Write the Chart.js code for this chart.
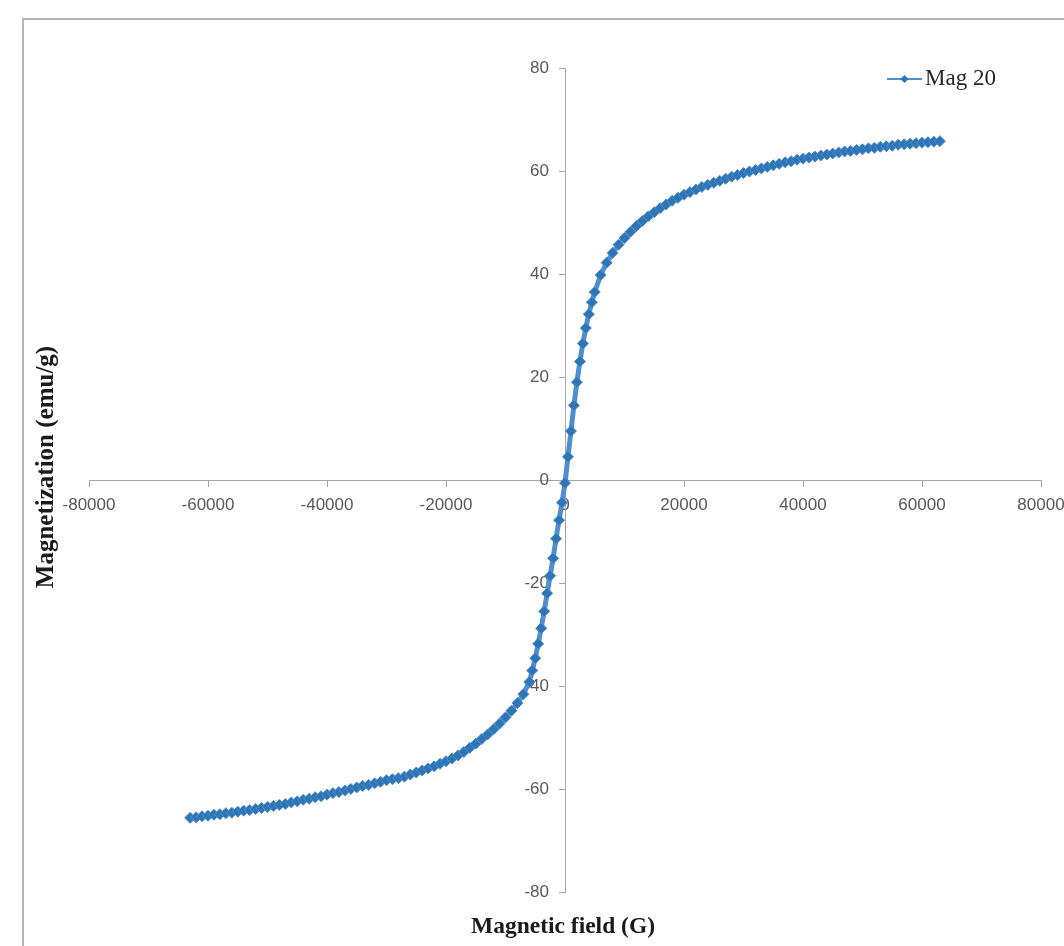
<!DOCTYPE html>
<html><head><meta charset="utf-8">
<script src="https://cdn.jsdelivr.net/npm/chart.js@4.4.1/dist/chart.umd.min.js"></script>
<style>html,body{margin:0;padding:0;background:#fff;overflow:hidden}#wrap{position:relative;width:1064px;height:946px}</style>
</head><body><div id="wrap"><canvas id="c" width="1064" height="946"></canvas></div>
<script>
const seriesName = 'Mag 20';
const xTitle = 'Magnetic field (G)';
const yTitle = 'Magnetization (emu/g)';
const xTicks = [-80000, -60000, -40000, -20000, 0, 20000, 40000, 60000, 80000];
const yTicks = [-80, -60, -40, -20, 0, 20, 40, 60, 80];

const fieldG = [
  -63000,-62000,-61000,-60000,-59000,-58000,-57000,-56000,-55000,-54000,
  -53000,-52000,-51000,-50000,-49000,-48000,-47000,-46000,-45000,-44000,
  -43000,-42000,-41000,-40000,-39000,-38000,-37000,-36000,-35000,-34000,
  -33000,-32000,-31000,-30000,-29000,-28000,-27000,-26000,-25000,-24000,
  -23000,-22000,-21000,-20000,-19000,-18000,-17000,-16000,-15000,-14000,
  -13000,-12000,-11000,-10000,-9000,-8000,-7000,-6000,-5500,-5000,
  -4500,-4000,-3500,-3000,-2500,-2000,-1500,-1000,-500,0,
  500,1000,1500,2000,2500,3000,3500,4000,4500,5000,
  6000,7000,8000,9000,10000,11000,12000,13000,14000,15000,
  16000,17000,18000,19000,20000,21000,22000,23000,24000,25000,
  26000,27000,28000,29000,30000,31000,32000,33000,34000,35000,
  36000,37000,38000,39000,40000,41000,42000,43000,44000,45000,
  46000,47000,48000,49000,50000,51000,52000,53000,54000,55000,
  56000,57000,58000,59000,60000,61000,62000,63000
];
const magnetization = [
  -65.6,-65.5,-65.3,-65.2,-65.0,-64.9,-64.7,-64.6,-64.4,-64.2,
  -64.1,-63.9,-63.7,-63.5,-63.3,-63.1,-62.9,-62.6,-62.4,-62.1,
  -61.9,-61.6,-61.4,-61.1,-60.8,-60.6,-60.3,-60.0,-59.7,-59.4,
  -59.2,-58.9,-58.6,-58.3,-58.1,-57.9,-57.6,-57.2,-56.8,-56.4,
  -56.0,-55.6,-55.1,-54.6,-54.1,-53.5,-52.8,-52.0,-51.2,-50.3,
  -49.4,-48.4,-47.3,-46.1,-44.8,-43.3,-41.6,-39.2,-37.0,-34.6,
  -31.8,-28.8,-25.5,-22.0,-18.6,-15.2,-11.4,-7.8,-4.4,-0.6,
  4.5,9.5,14.5,19.0,23.0,26.5,29.5,32.2,34.5,36.5,
  39.8,42.2,44.1,45.7,47.0,48.2,49.3,50.3,51.2,52.0,
  52.8,53.5,54.2,54.8,55.4,55.9,56.4,56.9,57.3,57.7,
  58.1,58.5,58.9,59.2,59.6,59.9,60.2,60.5,60.8,61.1,
  61.4,61.7,61.9,62.2,62.4,62.6,62.8,63.0,63.2,63.4,
  63.6,63.8,63.9,64.1,64.2,64.4,64.5,64.7,64.8,64.9,
  65.1,65.2,65.3,65.4,65.5,65.6,65.7,65.8
];

const lineColor = '#4f8fd0';
const markColor = '#2e75b6';

const legendMark = document.createElement('canvas');
legendMark.width = 35; legendMark.height = 12;
(function(){
  const g = legendMark.getContext('2d');
  g.strokeStyle = lineColor; g.lineWidth = 2;
  g.beginPath(); g.moveTo(0, 6); g.lineTo(35, 6); g.stroke();
  g.fillStyle = markColor;
  g.beginPath(); g.moveTo(17.5, 2); g.lineTo(21.5, 6); g.lineTo(17.5, 10); g.lineTo(13.5, 6); g.closePath(); g.fill();
})();

const framePlugin = {
  id: 'frame',
  afterLayout(chart) {
    const lg = chart.legend;
    if (lg) {
      const w = lg.width, h = lg.height;
      lg.left = 885.5; lg.right = lg.left + w;
      lg.top = 57.5; lg.bottom = lg.top + h;
    }
  },
  beforeDraw(chart) {
    const ctx = chart.ctx;
    ctx.save();
    ctx.fillStyle = '#ffffff';
    ctx.fillRect(0, 0, chart.width, chart.height);
    ctx.strokeStyle = '#b4b4b4';
    ctx.lineWidth = 2;
    ctx.strokeRect(23, 19, 1200, 1200);
    ctx.restore();
  },
  afterDraw(chart) {
    const ctx = chart.ctx;
    const a = chart.chartArea;
    ctx.save();
    ctx.fillStyle = '#1a1a1a';
    ctx.textAlign = 'center';
    ctx.textBaseline = 'middle';
    ctx.font = 'bold 23.5px "Liberation Serif", "Times New Roman", serif';
    ctx.fillText(xTitle, (a.left + a.right) / 2 - 2, 927);
    ctx.font = 'bold 25px "Liberation Serif", "Times New Roman", serif';
    ctx.translate(47, 467);
    ctx.rotate(-Math.PI / 2);
    ctx.fillText(yTitle, 0, 0);
    ctx.restore();
  }
};

const tickFont = { family: '"Liberation Sans", Arial, sans-serif', size: 17 };

new Chart(document.getElementById('c'), {
  type: 'scatter',
  data: {
    datasets: [{
      label: seriesName,
      data: fieldG.map((x, i) => ({ x: x, y: magnetization[i] })),
      showLine: true,
      borderColor: lineColor,
      borderWidth: 5,
      pointStyle: 'rectRot',
      pointRadius: 5.5,
      pointBackgroundColor: markColor,
      pointBorderColor: lineColor,
      pointBorderWidth: 1
    }]
  },
  options: {
    responsive: false,
    animation: false,
    events: [],
    layout: { padding: { left: 89, right: 23, top: 68, bottom: 54 } },
    plugins: {
      tooltip: { enabled: false },
      legend: {
        position: 'chartArea',
        align: 'start',
        labels: {
          usePointStyle: true,
          pointStyleWidth: 18,
          boxHeight: 12,
          color: '#262626',
          font: { family: '"Liberation Serif", "Times New Roman", serif', size: 23 },
          generateLabels: () => [{
            text: seriesName, pointStyle: legendMark, fillStyle: markColor,
            strokeStyle: lineColor, lineWidth: 0, hidden: false, datasetIndex: 0, fontColor: '#262626'
          }]
        }
      }
    },
    scales: {
      x: {
        type: 'linear',
        position: { y: 0 },
        min: -80000, max: 80000,
        afterBuildTicks: s => { s.ticks = xTicks.map(v => ({ value: v })); },
        afterFit: s => { s.height = 0; s.paddingLeft = 0; s.paddingRight = 0; },
        grid: { drawOnChartArea: false, drawTicks: true, tickLength: 6, color: '#a6a6a6' },
        border: { display: true, color: '#a6a6a6', width: 1 },
        ticks: { color: '#595959', font: tickFont, padding: 9, maxRotation: 0, autoSkip: false,
                 callback: v => String(v) }
      },
      y: {
        type: 'linear',
        position: 'center',
        min: -80, max: 80,
        afterBuildTicks: s => { s.ticks = yTicks.map(v => ({ value: v })); },
        afterFit: s => { s.width = 0; s.paddingTop = 0; s.paddingBottom = 0; },
        grid: { drawOnChartArea: false, drawTicks: true, tickLength: 6, color: '#a6a6a6' },
        border: { display: true, color: '#a6a6a6', width: 1 },
        ticks: { color: '#595959', font: tickFont, padding: 10, autoSkip: false,
                 callback: v => String(v) }
      }
    }
  },
  plugins: [framePlugin]
});
</script>
</body></html>
